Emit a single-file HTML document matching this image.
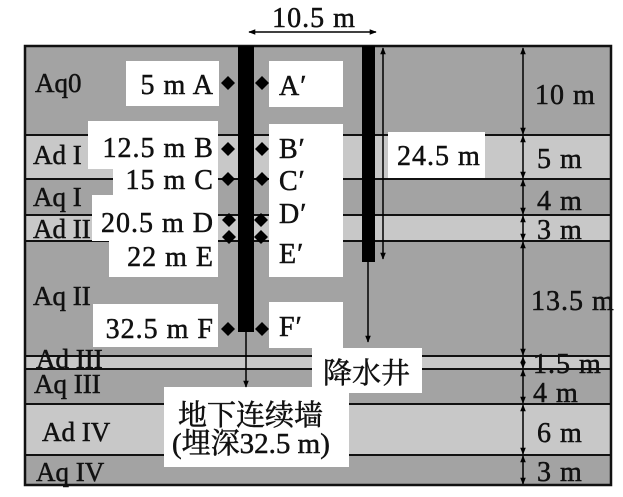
<!DOCTYPE html>
<html><head><meta charset="utf-8"><style>
html,body{margin:0;padding:0;background:#fff;width:623px;height:497px;overflow:hidden}
svg text{font-family:"Liberation Serif","Noto Serif CJK SC",serif;fill:#111;stroke:#111;stroke-width:0.5}
</style></head><body>
<svg width="623" height="497" viewBox="0 0 623 497" xmlns="http://www.w3.org/2000/svg">
<defs>
<marker id="ah" viewBox="0 0 10 10" refX="9" refY="5" markerWidth="7" markerHeight="7" orient="auto-start-reverse" markerUnits="userSpaceOnUse"><path d="M0,1 L10,5 L0,9 z" fill="#000"/></marker>
</defs>
<rect x="25" y="46" width="586" height="89" fill="#a3a3a3"/>
<rect x="25" y="135" width="586" height="44" fill="#c8c8c8"/>
<rect x="25" y="179" width="586" height="36" fill="#a3a3a3"/>
<rect x="25" y="215" width="586" height="26" fill="#c8c8c8"/>
<rect x="25" y="241" width="586" height="115" fill="#a3a3a3"/>
<rect x="25" y="356" width="586" height="13" fill="#c8c8c8"/>
<rect x="25" y="369" width="586" height="35" fill="#a3a3a3"/>
<rect x="25" y="404" width="586" height="51" fill="#c8c8c8"/>
<rect x="25" y="455" width="586" height="30" fill="#a3a3a3"/>
<g stroke="#111" stroke-width="2">
<line x1="25" y1="135" x2="611" y2="135"/><line x1="25" y1="179" x2="611" y2="179"/>
<line x1="25" y1="215" x2="611" y2="215"/><line x1="25" y1="241" x2="611" y2="241"/>
<line x1="25" y1="356" x2="611" y2="356"/><line x1="25" y1="369" x2="611" y2="369"/>
<line x1="25" y1="404" x2="611" y2="404"/><line x1="25" y1="455" x2="611" y2="455"/>
</g>
<rect x="25" y="46" width="586" height="439" fill="none" stroke="#111" stroke-width="2.5"/>
<g fill="#fff">
<rect x="126" y="61" width="93" height="45"/>
<rect x="88" y="121" width="130" height="48"/>
<rect x="113" y="165" width="105" height="32"/>
<rect x="92" y="195" width="126" height="46"/>
<rect x="109" y="240" width="109" height="37"/>
<rect x="93" y="304" width="125" height="43"/>
<rect x="269" y="61" width="74" height="46"/>
<rect x="269" y="124" width="74" height="153"/>
<rect x="269" y="302" width="74" height="46"/>
<rect x="388" y="132" width="97" height="46"/>
<rect x="312" y="348" width="110" height="45"/>
<rect x="164" y="387" width="185" height="80"/>
</g>
<rect x="238" y="46" width="16" height="286" fill="#000"/>
<rect x="362" y="46" width="13" height="216" fill="#000"/>
<g stroke="#000" stroke-width="1.5" fill="none">
<line x1="246" y1="332" x2="246" y2="387" marker-end="url(#ah)"/>
<line x1="368" y1="262" x2="368" y2="342" marker-end="url(#ah)"/>
<line x1="383" y1="48" x2="383" y2="259" marker-start="url(#ah)" marker-end="url(#ah)"/>
<line x1="249" y1="32" x2="376" y2="32" marker-start="url(#ah)" marker-end="url(#ah)"/>
<g marker-start="url(#ah)" marker-end="url(#ah)">
<line x1="523" y1="48" x2="523" y2="134"/>
<line x1="523" y1="136" x2="523" y2="178"/>
<line x1="523" y1="180" x2="523" y2="214"/>
<line x1="523" y1="216" x2="523" y2="240"/>
<line x1="523" y1="242" x2="523" y2="355"/>
<line x1="523" y1="357" x2="523" y2="368"/>
<line x1="523" y1="370" x2="523" y2="403"/>
<line x1="523" y1="405" x2="523" y2="454"/>
<line x1="523" y1="456" x2="523" y2="484"/>
</g>
</g>
<g fill="#000">
<path d="M228,76 l7,7 l-7,7 l-7,-7z"/><path d="M262,76 l7,7 l-7,7 l-7,-7z"/>
<path d="M228,142 l7,7 l-7,7 l-7,-7z"/><path d="M262,142 l7,7 l-7,7 l-7,-7z"/>
<path d="M228,172 l7,7 l-7,7 l-7,-7z"/><path d="M262,172 l7,7 l-7,7 l-7,-7z"/>
<path d="M229,213 l7,7 l-7,7 l-7,-7z"/><path d="M261,213 l7,7 l-7,7 l-7,-7z"/>
<path d="M229,230 l7,7 l-7,7 l-7,-7z"/><path d="M261,230 l7,7 l-7,7 l-7,-7z"/>
<path d="M228,322 l7,7 l-7,7 l-7,-7z"/><path d="M262,322 l7,7 l-7,7 l-7,-7z"/>
</g>
<g font-size="28" letter-spacing="1">
<text x="314" y="27" text-anchor="middle">10.5 m</text>
<g text-anchor="end">
<text x="214" y="94">5 m A</text>
<text x="214" y="157">12.5 m B</text>
<text x="214" y="189">15 m C</text>
<text x="214" y="232">20.5 m D</text>
<text x="214" y="266">22 m E</text>
<text x="214" y="338">32.5 m F</text>
</g>
<text x="279" y="95">A′</text>
<text x="279" y="158">B′</text>
<text x="279" y="190">C′</text>
<text x="279" y="223">D′</text>
<text x="279" y="263">E′</text>
<text x="279" y="336">F′</text>
<text x="397" y="165">24.5 m</text>
<text x="535" y="104">10 m</text>
<text x="537" y="168">5 m</text>
<text x="537" y="210">4 m</text>
<text x="537" y="239">3 m</text>
<text x="531" y="310">13.5 m</text>
<text x="533" y="373">1.5 m</text>
<text x="533" y="402">4 m</text>
<text x="537" y="442">6 m</text>
<text x="537" y="481">3 m</text>
</g>
<g font-size="27">
<text x="35" y="92">Aq0</text>
<text x="33" y="164">Ad I</text>
<text x="33" y="206">Aq I</text>
<text x="33" y="238">Ad II</text>
<text x="33" y="305">Aq II</text>
<text x="36" y="368">Ad III</text>
<text x="34" y="393">Aq III</text>
<text x="42" y="441">Ad IV</text>
<text x="36" y="481">Aq IV</text>
</g>
<g font-size="29">
<text x="323" y="383" style="font-family:'Noto Serif CJK SC','Noto Sans CJK SC',serif">降水井</text>
<text x="178" y="425" style="font-family:'Noto Serif CJK SC','Noto Sans CJK SC',serif">地下连续墙</text>
<text x="172" y="453" style="font-family:'Liberation Serif','Noto Serif CJK SC',serif">(埋深32.5 m)</text>
</g>
</svg>
</body></html>
